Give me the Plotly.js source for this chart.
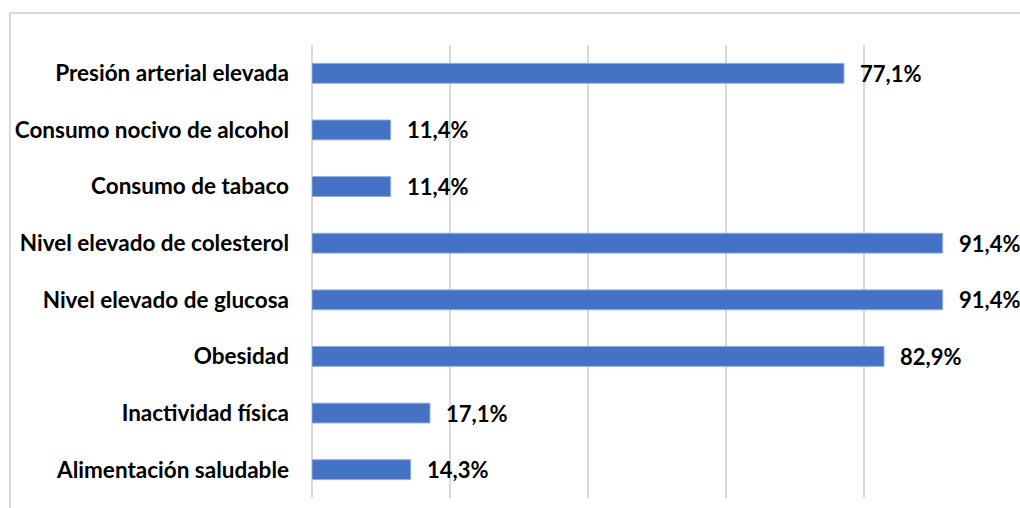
<!DOCTYPE html>
<html>
<head>
<meta charset="utf-8">
<script src="https://cdn.plot.ly/plotly-3.0.1.min.js"></script>
<style>html,body{margin:0;padding:0;background:#fff;}#chart{width:1020px;height:508px;}</style>
</head>
<body>
<div id="chart"></div>
<script>
const categories = [
  "Presión arterial elevada",
  "Consumo nocivo de alcohol",
  "Consumo de tabaco",
  "Nivel elevado de colesterol",
  "Nivel elevado de glucosa",
  "Obesidad",
  "Inactividad física",
  "Alimentación saludable"
];
const values = [77.1, 11.4, 11.4, 91.4, 91.4, 82.9, 17.1, 14.3];
const valueLabels = ["77,1%", "11,4%", "11,4%", "91,4%", "91,4%", "82,9%", "17,1%", "14,3%"];

const FONT = "Lato, 'Open Sans', sans-serif";

const trace = {
  type: "bar",
  orientation: "h",
  y: categories,
  x: values,
  marker: {color: "#4472C4", line: {color: "#8FAADC", width: 1}},
  hoverinfo: "skip"
};

const annotations = categories.map((c, i) => ({
  x: values[i], y: c, xref: "x", yref: "y",
  text: "<b>" + valueLabels[i] + "</b>",
  showarrow: false, xanchor: "left", yanchor: "middle", xshift: 14, yshift: 0,
  font: {family: FONT, size: 22, color: "#000"}
}));

const layout = {
  width: 1020, height: 508,
  margin: {l: 312, r: 18, t: 45, b: 10},
  paper_bgcolor: "#fff", plot_bgcolor: "#fff",
  showlegend: false,
  bargap: 0.65,
  xaxis: {
    range: [0, 100], dtick: 20, tick0: 0,
    showticklabels: false, showgrid: true, gridcolor: "#d9d9d9", gridwidth: 1.5,
    zeroline: true, zerolinecolor: "#d9d9d9", zerolinewidth: 1.5,
    showline: false, fixedrange: true
  },
  yaxis: {
    autorange: "reversed", type: "category",
    showgrid: false, zeroline: false, showline: false,
    ticks: "", ticklabelstandoff: 22,
    tickfont: {family: FONT, size: 22.5, color: "#000", weight: "bold"},
    fixedrange: true
  },
  annotations: annotations,
  shapes: [{
    type: "rect", xref: "paper", yref: "paper",
    x0: (10 - 312) / 690, x1: 1.2, y0: -0.2, y1: 1 + (45 - 13) / 453,
    line: {color: "#d9d9d9", width: 2}, fillcolor: "rgba(0,0,0,0)", layer: "below"
  }]
};

Plotly.newPlot("chart", [trace], layout, {displayModeBar: false, staticPlot: true});
</script>
</body>
</html>
